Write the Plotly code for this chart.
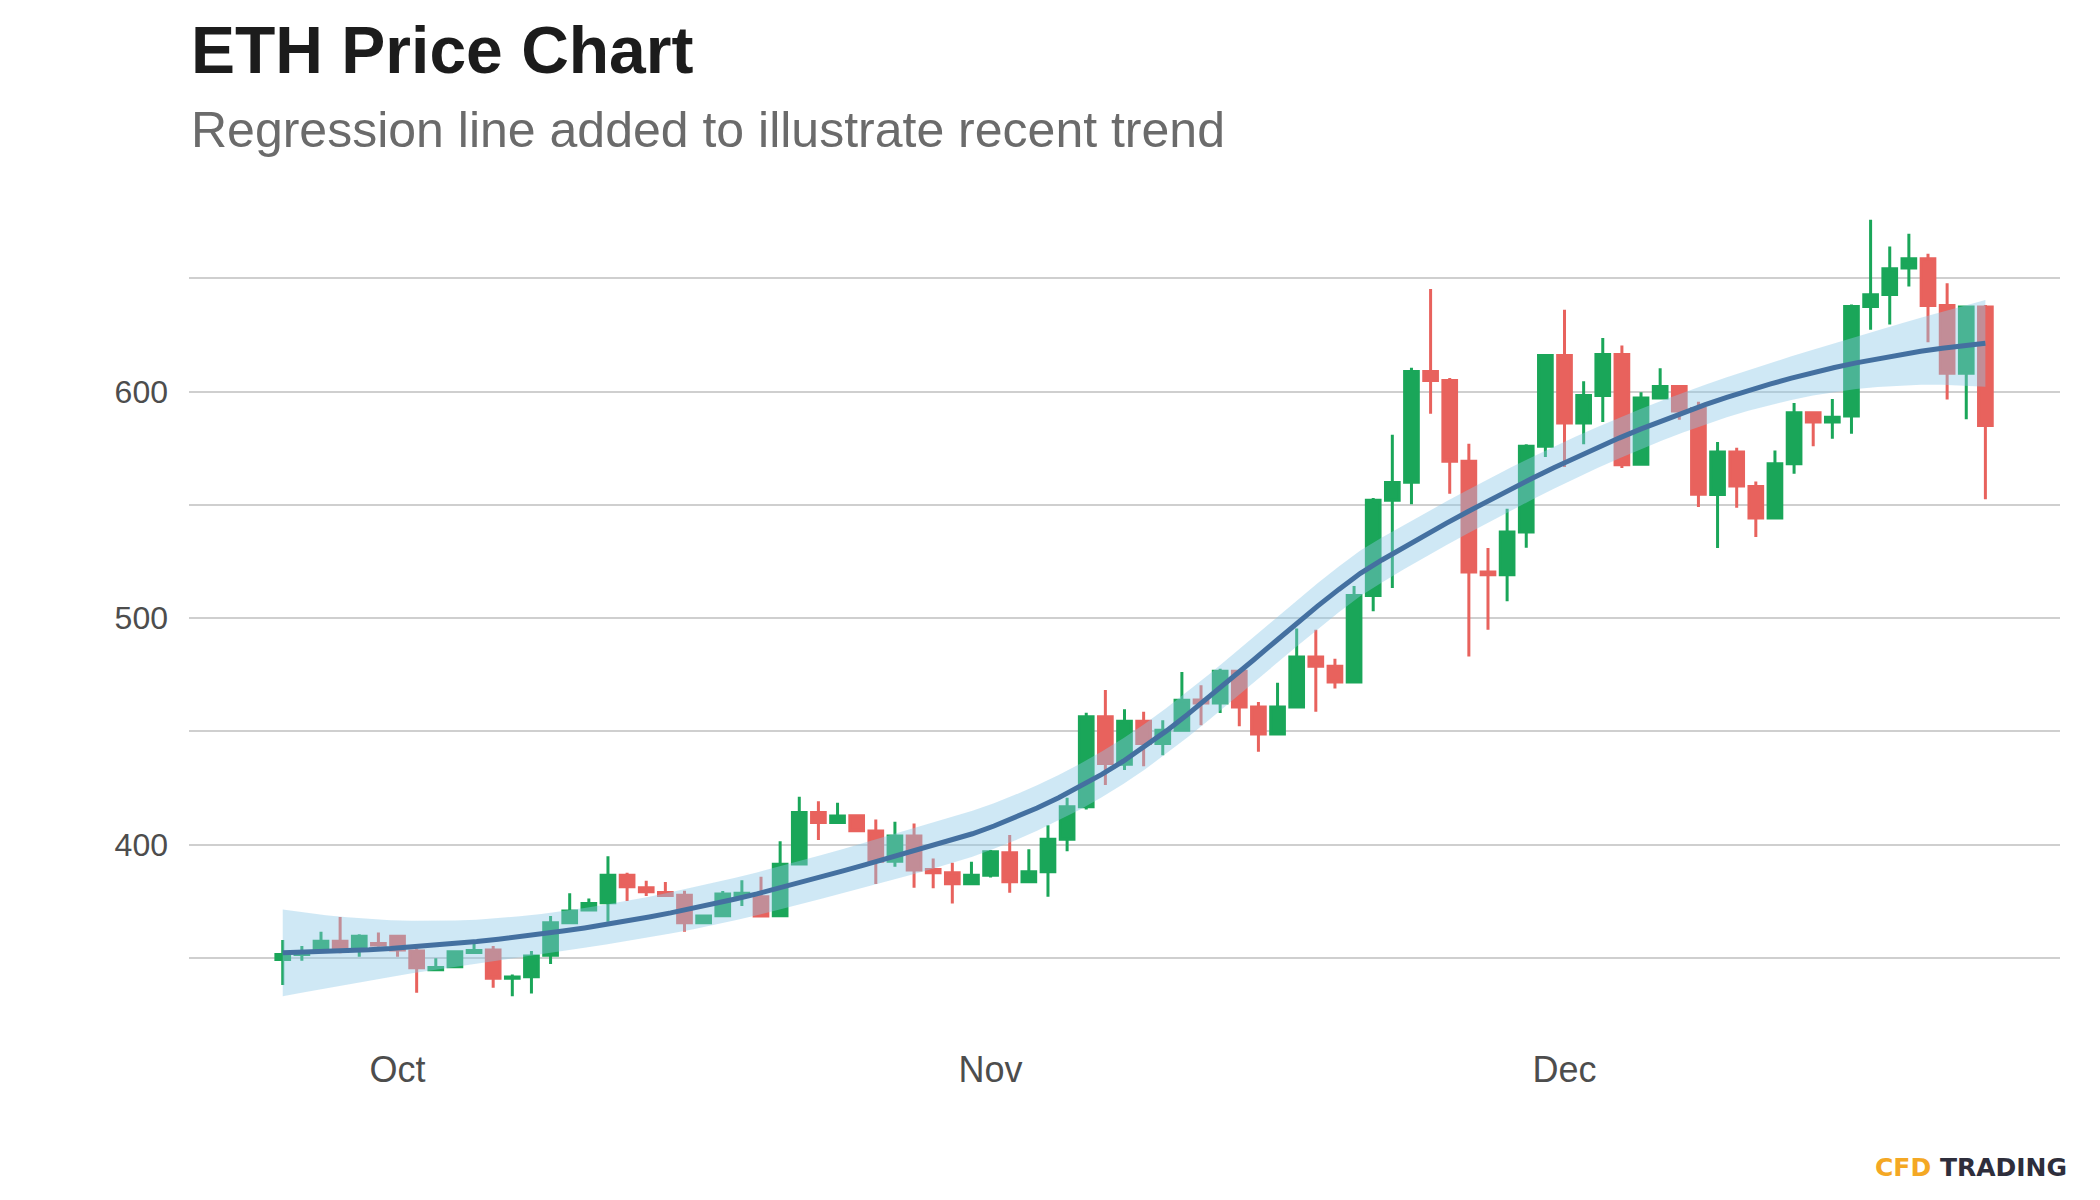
import numpy as np
import pandas as pd
import plotly.graph_objects as go

# ---------------- data ----------------
start_date = "2020-09-25"
n_days = 90

open_ = [349.3, 351.5, 354.2, 357.4, 354.5, 356.3, 359.6, 353.0, 344.8, 346.1,
         352.4, 353.5, 341.0, 341.7, 351.2, 365.5, 371.1, 374.3, 386.5, 381.0,
         378.9, 377.7, 365.5, 368.6, 377.5, 377.0, 368.6, 391.4, 414.2, 409.8,
         412.7, 406.0, 392.7, 403.8, 389.0, 387.6, 382.7, 386.5, 396.4, 383.6,
         388.0, 402.4, 416.7, 456.4, 435.5, 454.5, 444.6, 450.5, 463.8, 462.5,
         476.5, 460.8, 448.8, 460.8, 482.8, 478.7, 471.8, 510.0, 552.0, 560.0,
         608.9, 604.9, 569.2, 520.3, 519.1, 538.0, 575.8, 615.9, 586.1, 598.3,
         616.4, 567.9, 597.2, 602.2, 592.5, 554.6, 573.3, 558.1, 544.2, 568.1,
         590.6, 586.5, 589.2, 637.5, 642.8, 654.5, 658.6, 638.0, 608.1, 637.3]
high = [357.9, 355.2, 361.5, 368.0, 360.4, 361.2, 359.8, 354.2, 349.8, 353.4,
        356.4, 355.2, 342.7, 353.0, 368.5, 378.5, 376.2, 394.9, 387.6, 384.0,
        383.5, 379.6, 369.0, 379.5, 384.3, 385.8, 401.5, 421.1, 419.2, 418.5,
        413.0, 411.1, 410.1, 409.3, 393.9, 392.0, 392.4, 397.6, 404.2, 398.0,
        408.6, 420.7, 458.2, 468.2, 459.8, 458.6, 454.9, 476.2, 470.3, 477.6,
        477.0, 463.0, 471.5, 495.4, 494.9, 482.1, 514.2, 553.0, 580.9, 610.5,
        645.3, 606.0, 577.0, 530.9, 548.3, 576.7, 616.2, 636.1, 604.5, 623.6,
        620.3, 599.7, 610.3, 602.5, 595.5, 577.7, 575.2, 560.3, 574.0, 594.9,
        591.0, 596.7, 638.4, 675.8, 664.0, 669.6, 660.8, 647.8, 638.0, 638.2]
low = [338.0, 348.7, 353.8, 352.0, 350.5, 354.9, 350.5, 334.6, 344.3, 345.9,
       352.1, 336.8, 333.1, 334.3, 347.3, 365.0, 370.8, 366.0, 375.1, 377.3,
       377.0, 361.5, 365.3, 368.0, 372.9, 367.9, 368.2, 391.0, 402.0, 409.5,
       406.0, 382.6, 390.2, 381.0, 380.7, 374.0, 382.5, 385.5, 378.8, 383.4,
       377.0, 397.1, 415.5, 426.3, 432.9, 434.6, 439.5, 449.8, 452.7, 458.1,
       452.2, 441.0, 448.5, 460.5, 458.6, 468.9, 471.5, 503.0, 513.3, 550.2,
       590.2, 554.9, 483.0, 494.9, 507.4, 531.1, 571.1, 566.7, 576.7, 586.5,
       566.2, 567.5, 597.0, 587.5, 549.0, 530.9, 548.7, 535.8, 543.8, 563.7,
       575.9, 579.2, 581.4, 627.3, 629.6, 646.4, 621.8, 596.5, 587.8, 552.4]
close = [351.5, 352.2, 357.4, 354.5, 359.6, 355.7, 353.5, 345.7, 345.8, 352.7,
         353.3, 341.0, 341.6, 350.8, 365.5, 370.7, 374.0, 386.5, 381.4, 379.2,
         377.5, 365.5, 368.5, 378.2, 378.5, 368.5, 391.3, 414.2, 409.8, 412.6,
         406.1, 392.7, 403.8, 388.8, 387.6, 382.7, 386.5, 396.8, 383.6, 388.0,
         402.4, 416.7, 456.4, 435.8, 454.5, 444.6, 450.5, 463.7, 462.5, 476.5,
         460.8, 448.8, 460.8, 482.8, 478.7, 471.8, 510.0, 552.0, 559.8, 608.9,
         604.9, 569.2, 520.3, 519.1, 538.0, 575.8, 615.9, 586.1, 598.3, 616.4,
         567.7, 597.1, 602.2, 591.4, 554.7, 573.3, 558.3, 544.2, 568.1, 590.6,
         586.5, 588.7, 637.5, 642.7, 654.2, 658.6, 638.0, 608.1, 637.3, 585.0]

month_ticks = ["2020-10-01", "2020-11-01", "2020-12-01"]
month_labels = ["Oct", "Nov", "Dec"]
price_ticks = [350, 400, 450, 500, 550, 600, 650]
price_labels = ["", "400", "", "500", "", "600", ""]

title_text = "ETH Price Chart"
subtitle_text = "Regression line added to illustrate recent trend"

# ---------------- regression (loess, span 0.75, degree 2) ----------------
dates = pd.date_range(start_date, periods=n_days, freq="D")
xd = np.arange(n_days, dtype=float)
yc = np.array(close)
SPAN = 0.75
T_CRIT = 1.99


def loess_rows(x, x_eval, span):
    n = len(x)
    q = int(np.floor(n * span))
    rows = []
    for x0 in x_eval:
        d = np.abs(x - x0)
        h = np.sort(d)[q - 1]
        u = np.clip(d / h, 0, 1)
        w = (1 - u ** 3) ** 3
        X = np.column_stack([np.ones(n), x - x0, (x - x0) ** 2])
        XtW = X.T * w
        A = XtW @ X
        rows.append(np.linalg.solve(A, XtW)[0])
    return np.array(rows)


L_data = loess_rows(xd, xd, SPAN)
resid = yc - L_data @ yc
IL = np.eye(n_days) - L_data
M = IL.T @ IL
delta1 = np.trace(M)
s_hat = np.sqrt(np.sum(resid ** 2) / delta1)

x_eval = np.linspace(xd[0], xd[-1], 80)
L_eval = loess_rows(xd, x_eval, SPAN)
fit = L_eval @ yc
se = s_hat * np.sqrt(np.sum(L_eval ** 2, axis=1))
upper = fit + T_CRIT * se
lower = fit - T_CRIT * se
eval_dates = dates[0] + pd.to_timedelta(x_eval, unit="D")

# ---------------- figure ----------------
fig = go.Figure()
fig.add_trace(go.Candlestick(
    x=dates, open=open_, high=high, low=low, close=close,
    increasing=dict(line=dict(color="#1aa659", width=3), fillcolor="#1aa659"),
    decreasing=dict(line=dict(color="#e8625d", width=3), fillcolor="#e8625d"),
    whiskerwidth=0, showlegend=False, hoverinfo="skip",
))
fig.add_trace(go.Scatter(
    x=list(eval_dates) + list(eval_dates[::-1]),
    y=list(upper) + list(lower[::-1]),
    fill="toself", fillcolor="rgba(140,200,232,0.42)",
    line=dict(width=0), mode="lines", showlegend=False, hoverinfo="skip",
))
fig.add_trace(go.Scatter(
    x=eval_dates, y=fit, mode="lines",
    line=dict(color="#4470a0", width=5), showlegend=False, hoverinfo="skip",
))

ymin, ymax = min(low), max(high)
pad = 0.05 * (ymax - ymin)
x0 = dates[0] - pd.Timedelta(days=4.9)
x1 = dates[0] + pd.Timedelta(days=92.9)

W, H = 2092, 1192
ML, MR, MT, MB = 181, 40, 172.5, 165
PH = H - MT - MB
PW = W - ML - MR


def py(y_fig):
    return 1 + (MT - y_fig) / PH


fig.update_layout(
    width=W, height=H,
    paper_bgcolor="white", plot_bgcolor="white",
    margin=dict(l=ML, r=MR, t=MT, b=MB, pad=0),
    boxgap=0.284, boxgroupgap=0,
    font=dict(family="Liberation Sans, Arial, sans-serif", color="#4d4d4d"),
    xaxis=dict(
        range=[x0, x1], rangeslider=dict(visible=False),
        tickvals=month_ticks, ticktext=month_labels,
        showgrid=False, zeroline=False, showline=False, ticks="",
        tickfont=dict(size=36, color="#4d4d4d"), ticklabelstandoff=10,
    ),
    yaxis=dict(
        range=[ymin - pad, ymax + pad],
        tickvals=price_ticks, ticktext=price_labels,
        showgrid=True, gridcolor="#cfcfcf", gridwidth=2,
        zeroline=False, showline=False, ticks="",
        tickfont=dict(size=32, color="#4d4d4d"), ticklabelstandoff=20,
    ),
    annotations=[
        dict(text="<b>" + title_text + "</b>", xref="paper", yref="paper",
             x=0, y=py(41), xanchor="left", yanchor="middle",
             showarrow=False, font=dict(size=66, color="#1c1c1c")),
        dict(text=subtitle_text, xref="paper", yref="paper",
             x=0, y=py(121), xanchor="left", yanchor="middle",
             showarrow=False, font=dict(size=50, color="#6b6b6b")),
        dict(text="<span style='color:#f4a824'>CFD</span> TRADING",
             xref="paper", yref="paper",
             x=1 + 9 / PW, y=py(1160), xanchor="right", yanchor="middle",
             showarrow=False,
             font=dict(size=25, color="#2e2e3c", family="DejaVu Sans, sans-serif", weight="bold")),
    ],
)

fig.write_html("out.html")
